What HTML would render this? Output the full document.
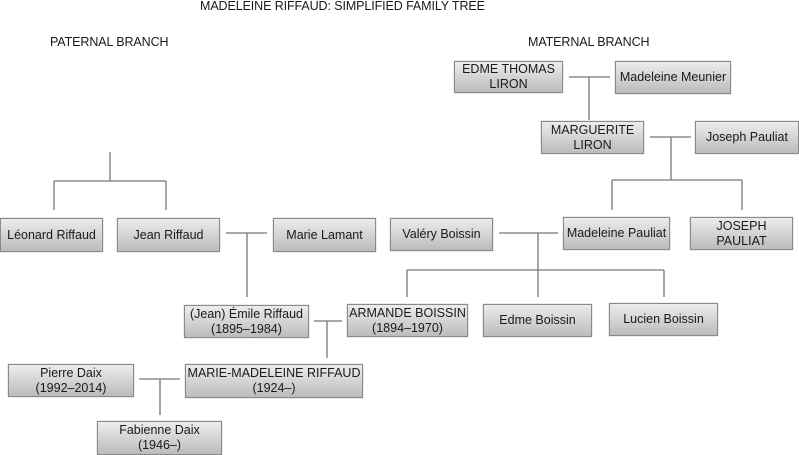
<!DOCTYPE html>
<html><head><meta charset="utf-8"><style>
body{margin:0;width:799px;height:455px;background:#fff;position:relative;overflow:hidden;font-family:"Liberation Sans",Arial,sans-serif;color:#1a1a1a}
.t{position:absolute;font-size:12.5px;white-space:nowrap;letter-spacing:-0.1px}
.b{position:absolute;box-sizing:border-box;border:1px solid #8a8a8a;background:linear-gradient(#ececec,#bcbcbc);display:flex;align-items:center;justify-content:center;text-align:center;font-size:12.5px;line-height:15px;white-space:nowrap;box-shadow:0 0 1px #999}
svg{position:absolute;left:0;top:0}
</style></head><body>
<div class="t" style="left:200px;top:-1px">MADELEINE RIFFAUD: SIMPLIFIED FAMILY TREE</div>
<div class="t" style="left:50px;top:35px">PATERNAL BRANCH</div>
<div class="t" style="left:528px;top:35px">MATERNAL BRANCH</div>
<svg width="799" height="455" stroke="#777" stroke-width="1.3" fill="none">
<path d="M110 152V181M54 181H166M54 181V210M166 181V210"/>
<path d="M226 233H267M247 233V297"/>
<path d="M314 321H342M327 321V358"/>
<path d="M139 379H180M160 379V415"/>
<path d="M569 77H610M589 77V120"/>
<path d="M650 137H691M671 137V180M612 180H742M612 180V210M742 180V210"/>
<path d="M499 233H558M538 233V297M407 270H664M407 270V297M664 270V297"/>
</svg>
<div class="b" style="left:0;top:218px;width:103px;height:34px">Léonard Riffaud</div>
<div class="b" style="left:117px;top:218px;width:103px;height:34px">Jean Riffaud</div>
<div class="b" style="left:273px;top:218px;width:103px;height:34px">Marie Lamant</div>
<div class="b" style="left:184px;top:305px;width:125px;height:33px">(Jean) Émile Riffaud<br>(1895–1984)</div>
<div class="b" style="left:347px;top:304px;width:121px;height:33px">ARMANDE BOISSIN<br>(1894–1970)</div>
<div class="b" style="left:185px;top:364px;width:178px;height:34px">MARIE-MADELEINE RIFFAUD<br>(1924–)</div>
<div class="b" style="left:8px;top:364px;width:126px;height:33px">Pierre Daix<br>(1992–2014)</div>
<div class="b" style="left:97px;top:421px;width:125px;height:34px">Fabienne Daix<br>(1946–)</div>
<div class="b" style="left:454px;top:61px;width:109px;height:32px">EDME THOMAS<br>LIRON</div>
<div class="b" style="left:615px;top:61px;width:116px;height:33px">Madeleine Meunier</div>
<div class="b" style="left:541px;top:121px;width:103px;height:33px">MARGUERITE<br>LIRON</div>
<div class="b" style="left:695px;top:121px;width:104px;height:33px">Joseph Pauliat</div>
<div class="b" style="left:563px;top:217px;width:107px;height:33px">Madeleine Pauliat</div>
<div class="b" style="left:690px;top:217px;width:103px;height:33px">JOSEPH<br>PAULIAT</div>
<div class="b" style="left:390px;top:218px;width:103px;height:33px">Valéry Boissin</div>
<div class="b" style="left:483px;top:304px;width:109px;height:33px">Edme Boissin</div>
<div class="b" style="left:609px;top:303px;width:109px;height:33px">Lucien Boissin</div>
</body></html>
